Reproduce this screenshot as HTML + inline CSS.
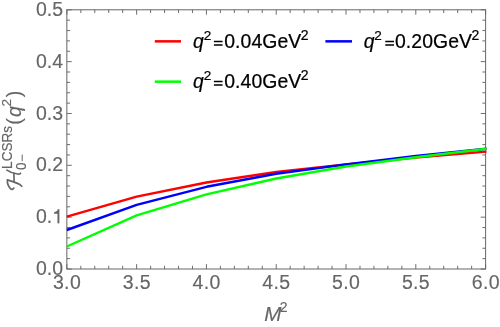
<!DOCTYPE html>
<html><head><meta charset="utf-8"><title>Plot</title>
<style>
html,body{margin:0;padding:0;background:#fff;}
body{width:500px;height:327px;overflow:hidden;font-family:"Liberation Sans",sans-serif;}
svg{display:block;font-family:"Liberation Sans",sans-serif;will-change:transform;}
</style></head>
<body>
<svg width="500" height="327" viewBox="0 0 500 327">
<rect x="0" y="0" width="500" height="327" fill="#fff"/>
<rect x="66.85" y="9.8" width="418.75" height="259.20" fill="none" stroke="#666" stroke-width="1.0"/>
<path d="M66.85 269.0v-4.9M66.85 9.8v4.9M80.81 269.0v-3.2M80.81 9.8v3.2M94.77 269.0v-3.2M94.77 9.8v3.2M108.72 269.0v-3.2M108.72 9.8v3.2M122.68 269.0v-3.2M122.68 9.8v3.2M136.64 269.0v-4.9M136.64 9.8v4.9M150.60 269.0v-3.2M150.60 9.8v3.2M164.56 269.0v-3.2M164.56 9.8v3.2M178.52 269.0v-3.2M178.52 9.8v3.2M192.47 269.0v-3.2M192.47 9.8v3.2M206.43 269.0v-4.9M206.43 9.8v4.9M220.39 269.0v-3.2M220.39 9.8v3.2M234.35 269.0v-3.2M234.35 9.8v3.2M248.31 269.0v-3.2M248.31 9.8v3.2M262.27 269.0v-3.2M262.27 9.8v3.2M276.23 269.0v-4.9M276.23 9.8v4.9M290.18 269.0v-3.2M290.18 9.8v3.2M304.14 269.0v-3.2M304.14 9.8v3.2M318.10 269.0v-3.2M318.10 9.8v3.2M332.06 269.0v-3.2M332.06 9.8v3.2M346.02 269.0v-4.9M346.02 9.8v4.9M359.97 269.0v-3.2M359.97 9.8v3.2M373.93 269.0v-3.2M373.93 9.8v3.2M387.89 269.0v-3.2M387.89 9.8v3.2M401.85 269.0v-3.2M401.85 9.8v3.2M415.81 269.0v-4.9M415.81 9.8v4.9M429.77 269.0v-3.2M429.77 9.8v3.2M443.73 269.0v-3.2M443.73 9.8v3.2M457.68 269.0v-3.2M457.68 9.8v3.2M471.64 269.0v-3.2M471.64 9.8v3.2M485.60 269.0v-4.9M485.60 9.8v4.9M66.85 269.00h4.9M485.6 269.00h-4.9M66.85 258.63h3.2M485.6 258.63h-3.2M66.85 248.26h3.2M485.6 248.26h-3.2M66.85 237.90h3.2M485.6 237.90h-3.2M66.85 227.53h3.2M485.6 227.53h-3.2M66.85 217.16h4.9M485.6 217.16h-4.9M66.85 206.79h3.2M485.6 206.79h-3.2M66.85 196.42h3.2M485.6 196.42h-3.2M66.85 186.06h3.2M485.6 186.06h-3.2M66.85 175.69h3.2M485.6 175.69h-3.2M66.85 165.32h4.9M485.6 165.32h-4.9M66.85 154.95h3.2M485.6 154.95h-3.2M66.85 144.58h3.2M485.6 144.58h-3.2M66.85 134.22h3.2M485.6 134.22h-3.2M66.85 123.85h3.2M485.6 123.85h-3.2M66.85 113.48h4.9M485.6 113.48h-4.9M66.85 103.11h3.2M485.6 103.11h-3.2M66.85 92.74h3.2M485.6 92.74h-3.2M66.85 82.38h3.2M485.6 82.38h-3.2M66.85 72.01h3.2M485.6 72.01h-3.2M66.85 61.64h4.9M485.6 61.64h-4.9M66.85 51.27h3.2M485.6 51.27h-3.2M66.85 40.90h3.2M485.6 40.90h-3.2M66.85 30.54h3.2M485.6 30.54h-3.2M66.85 20.17h3.2M485.6 20.17h-3.2M66.85 9.80h4.9M485.6 9.80h-4.9" fill="none" stroke="#666" stroke-width="0.95"/>
<g><polyline points="66.85,216.60 136.64,196.60 206.43,182.50 276.23,172.00 346.02,164.50 415.81,157.50 486.50,151.63" fill="none" stroke="#ff0000" stroke-width="2.4" stroke-linejoin="round"/><polyline points="66.85,230.00 136.64,204.80 206.43,186.80 276.23,173.80 346.02,164.40 415.81,156.00 486.50,148.81" fill="none" stroke="#0000ff" stroke-width="2.4" stroke-linejoin="round"/><polyline points="66.85,246.50 136.64,215.40 206.43,194.40 276.23,178.50 346.02,166.50 415.81,157.20 486.50,148.69" fill="none" stroke="#00ff00" stroke-width="2.4" stroke-linejoin="round"/></g>
<g stroke="#666" stroke-width="0.15">
<text x="67.02" y="288.9" text-anchor="middle" font-size="19.5" letter-spacing="0.35" fill="#666">3.0</text>
<text x="136.82" y="288.9" text-anchor="middle" font-size="19.5" letter-spacing="0.35" fill="#666">3.5</text>
<text x="206.61" y="288.9" text-anchor="middle" font-size="19.5" letter-spacing="0.35" fill="#666">4.0</text>
<text x="276.40" y="288.9" text-anchor="middle" font-size="19.5" letter-spacing="0.35" fill="#666">4.5</text>
<text x="346.19" y="288.9" text-anchor="middle" font-size="19.5" letter-spacing="0.35" fill="#666">5.0</text>
<text x="415.98" y="288.9" text-anchor="middle" font-size="19.5" letter-spacing="0.35" fill="#666">5.5</text>
<text x="485.78" y="288.9" text-anchor="middle" font-size="19.5" letter-spacing="0.35" fill="#666">6.0</text>
<text x="35.9" y="223.26" font-size="19.5" letter-spacing="0.1" fill="#666">0.</text>
<path d="M59.30 223.26V209.31H57.90C57.65 210.91 56.05 212.01 54.15 212.21V213.66H57.55V223.26Z" fill="#666"/>
<text x="63.30" y="275.10" text-anchor="end" font-size="19.5" letter-spacing="0.1" fill="#666">0.0</text>
<text x="63.30" y="171.42" text-anchor="end" font-size="19.5" letter-spacing="0.1" fill="#666">0.2</text>
<text x="63.30" y="119.58" text-anchor="end" font-size="19.5" letter-spacing="0.1" fill="#666">0.3</text>
<text x="63.30" y="67.74" text-anchor="end" font-size="19.5" letter-spacing="0.1" fill="#666">0.4</text>
<text x="63.30" y="15.90" text-anchor="end" font-size="19.5" letter-spacing="0.1" fill="#666">0.5</text>
</g>
<text transform="translate(264.3,320.9) scale(1.06,1)" font-size="19.5" font-style="italic" fill="#666" stroke="#666" stroke-width="0.15">M</text>
<text x="279.8" y="311.9" font-size="14" fill="#666" stroke="#666" stroke-width="0.15">2</text>
<path d="M154.8 41.35h26.2" stroke="#ff0000" stroke-width="2.5"/>
<path d="M325.4 41.35h26.6" stroke="#0000ff" stroke-width="2.5"/>
<path d="M154.8 81.65h26.2" stroke="#00ff00" stroke-width="2.5"/>
<g stroke="#000" stroke-width="0.22">
<text x="193.0" y="47.6" font-size="19.4" font-style="italic" fill="#000">q</text><text x="203.70" y="40.00" font-size="13.5" fill="#000">2</text><path d="M213.90 41.55h8.7M213.90 45.05h8.7" stroke="#000" stroke-width="1.4" fill="none"/><text x="224.20" y="47.6" font-size="19.4" letter-spacing="0.08" fill="#000">0.04GeV</text><text x="300.70" y="39.70" font-size="14" fill="#000">2</text>
<text x="363.8" y="47.6" font-size="19.4" font-style="italic" fill="#000">q</text><text x="374.20" y="40.00" font-size="13.5" fill="#000">2</text><path d="M385.30 41.55h8.7M385.30 45.05h8.7" stroke="#000" stroke-width="1.4" fill="none"/><text x="395.00" y="47.6" font-size="19.4" letter-spacing="0.08" fill="#000">0.20GeV</text><text x="471.50" y="39.70" font-size="14" fill="#000">2</text>
<text x="193.0" y="87.6" font-size="19.4" font-style="italic" fill="#000">q</text><text x="203.70" y="80.00" font-size="13.5" fill="#000">2</text><path d="M213.90 81.55h8.7M213.90 85.05h8.7" stroke="#000" stroke-width="1.4" fill="none"/><text x="224.20" y="87.6" font-size="19.4" letter-spacing="0.08" fill="#000">0.40GeV</text><text x="300.70" y="79.70" font-size="14" fill="#000">2</text>
</g>
<g transform="translate(21.3,190) rotate(-90)" fill="#666" stroke="#666" stroke-width="0.15"><text transform="translate(19.9,4.7) scale(1,1.09)" font-size="13.5">0</text><path d="M28.7 0.9h6.7" stroke-width="1.0" fill="none"/><text transform="translate(21.1,-9.3) scale(1,1.09)" font-size="13.5" letter-spacing="0.05">LCSRs</text><text x="65.3" y="0" font-size="19.5">(</text><text x="73.1" y="0" font-size="19.5" font-style="italic">q</text><text x="83.5" y="-10.3" font-size="13.5">2</text><text x="92.8" y="0" font-size="19.5">)</text></g><g fill="none" stroke="#666" stroke-width="1.65" stroke-linecap="round" stroke-linejoin="round"><path d="M6.9 170.1C9 171.6 13 173.4 17.6 174.0C19.2 174.2 20.3 174.0 20.6 173.2"/><path d="M13.9 173.2L14.1 182.1"/><path d="M13.8 188.0C12.9 189.5 11.6 189.9 10.4 188.6C8.7 186.7 7.2 183.4 7.3 179.9C10 180.8 12 181.4 14.1 182.1C16 182.7 19.8 183.9 21.8 186.3"/></g>
</svg>
</body></html>
